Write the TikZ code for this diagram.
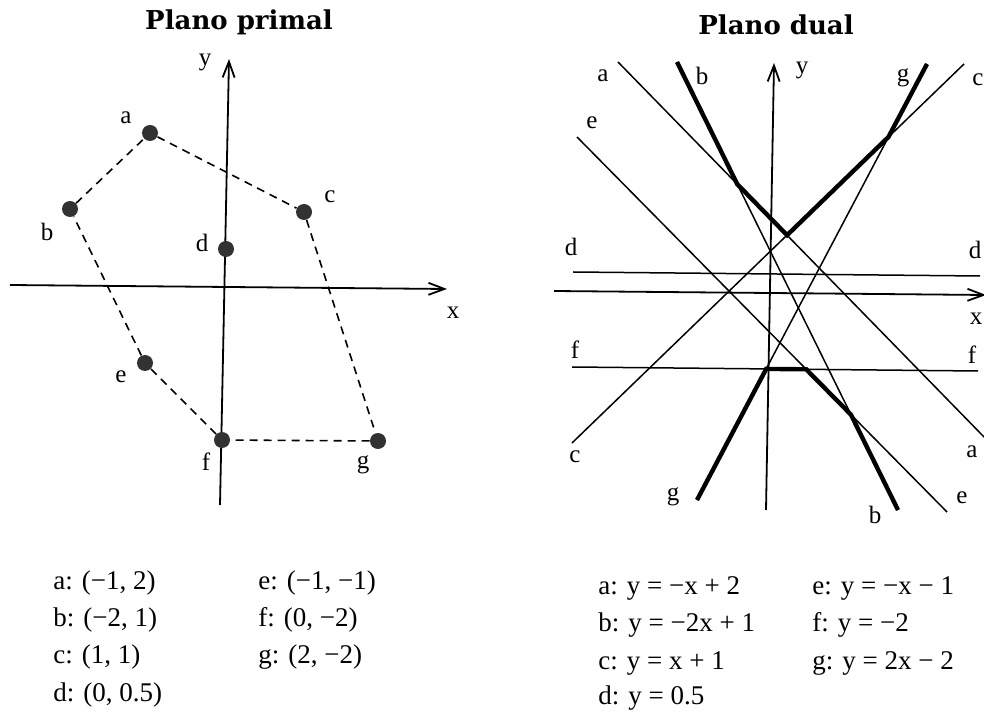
\documentclass[tikz,border=0pt]{standalone}
\usepackage{fontspec}
\setmainfont{Liberation Serif}
\newfontfamily\titlefont{DejaVu Serif}
\usetikzlibrary{arrows.meta}
\definecolor{PointGray}{RGB}{50,50,50}
\tikzset{
  axis/.style={-{Straight Barb[length=8pt,width=6pt]},line width=0.9pt},
  hull/.style={line width=0.8pt,dash pattern=on 4pt off 3pt},
  vertex/.style={circle,fill=PointGray,inner sep=0pt,minimum size=8pt},
  lbl/.style={font=\fontsize{12.5}{15}\selectfont,inner sep=0pt},
  dualline/.style={line width=0.75pt},
  envelope/.style={line width=2.2pt},
  heading/.style={font=\titlefont\bfseries\fontsize{13}{16}\selectfont},
  legend/.style={font=\fontsize{13.5}{16}\selectfont,anchor=west,inner sep=0pt}
}

\begin{document}
\begin{tikzpicture}[x=0.5pt,y=-0.5pt]
  \useasboundingbox (0,0) rectangle (984,715);

  % primal plane
  \node[heading] (ptitle) at (239,22) {Plano primal};
  \coordinate (px0) at (10,285);
  \coordinate (px1) at (447,289);
  \coordinate (py0) at (220,505);
  \coordinate (py1) at (229,59);
  \draw[axis] (px0) -- (px1);
  \draw[axis] (py0) -- (py1);
  \node[lbl] (pxl) at (453,313) {x};
  \node[lbl] (pyl) at (205,62) {y};

  \node[vertex] (a) at (150,133) {};
  \node[vertex] (b) at (70,209) {};
  \node[vertex] (c) at (304,212) {};
  \node[vertex] (d) at (226,249) {};
  \node[vertex] (e) at (145,363) {};
  \node[vertex] (f) at (222,440) {};
  \node[vertex] (g) at (378,441) {};
  \draw[hull] (a) -- (c) -- (g) -- (f) -- (e) -- (b) -- (a);

  \node[lbl] (la) at (126,118) {a};
  \node[lbl] (lb) at (47,232) {b};
  \node[lbl] (lc) at (330,197) {c};
  \node[lbl] (ld) at (202,243) {d};
  \node[lbl] (le) at (121,377) {e};
  \node[lbl] (lf) at (206,462) {f};
  \node[lbl] (lg) at (363,465) {g};

  \node[legend] (ta) at (53,583) {a: (−1, 2)};
  \node[legend] (tb) at (53,620) {b: (−2, 1)};
  \node[legend] (tc) at (53,657) {c: (1, 1)};
  \node[legend] (td) at (53,695) {d: (0, 0.5)};
  \node[legend] (te) at (258,583) {e: (−1, −1)};
  \node[legend] (tf) at (258,620) {f: (0, −2)};
  \node[legend] (tg) at (258,657) {g: (2, −2)};

  % dual plane
  \node[heading] (dtitle) at (776,25) {Plano dual};
  \coordinate (dx0) at (554,291);
  \coordinate (dx1) at (986,295);
  \coordinate (dy0) at (766,510);
  \coordinate (dy1) at (774,63);
  \draw[axis] (dx0) -- (dx1);
  \draw[axis] (dy0) -- (dy1);
  \node[lbl] (dxl) at (976,319) {x};
  \node[lbl] (dyl) at (802,70) {y};

  \coordinate (a1) at (618,62);  \coordinate (a2) at (986,439);
  \coordinate (b1) at (677,62);  \coordinate (b2) at (898,510);
  \coordinate (c1) at (572,443); \coordinate (c2) at (964,64);
  \coordinate (d1) at (573,272); \coordinate (d2) at (980,276);
  \coordinate (e1) at (577,137); \coordinate (e2) at (947,512);
  \coordinate (f1) at (572,367); \coordinate (f2) at (978,371);
  \coordinate (g1) at (697,500); \coordinate (g2) at (927,64);
  \foreach \l in {a,b,c,d,e,f,g}
    \draw[dualline] (\l1) -- (\l2);

  \coordinate (ba) at (intersection of b1--b2 and a1--a2);
  \coordinate (ac) at (intersection of a1--a2 and c1--c2);
  \coordinate (cg) at (intersection of c1--c2 and g1--g2);
  \coordinate (gf) at (intersection of g1--g2 and f1--f2);
  \coordinate (fe) at (intersection of f1--f2 and e1--e2);
  \coordinate (eb) at (intersection of e1--e2 and b1--b2);
  \draw[envelope] (b1) -- (ba) -- (ac) -- (cg) -- (g2);
  \draw[envelope] (g1) -- (gf) -- (fe) -- (eb) -- (b2);

  \node[lbl] (da1) at (603,76) {a};
  \node[lbl] (da2) at (972,452) {a};
  \node[lbl] (db1) at (702,76) {b};
  \node[lbl] (db2) at (875,515) {b};
  \node[lbl] (dc1) at (575,457) {c};
  \node[lbl] (dc2) at (978,80) {c};
  \node[lbl] (dd1) at (571,247) {d};
  \node[lbl] (dd2) at (975,250) {d};
  \node[lbl] (de1) at (592,123) {e};
  \node[lbl] (de2) at (962,498) {e};
  \node[lbl] (df1) at (575,350) {f};
  \node[lbl] (df2) at (972,355) {f};
  \node[lbl] (dg1) at (673,497) {g};
  \node[lbl] (dg2) at (903,78) {g};

  \node[legend] (ua) at (598,588) {a: y = −x + 2};
  \node[legend] (ub) at (598,625) {b: y = −2x + 1};
  \node[legend] (uc) at (598,663) {c: y = x + 1};
  \node[legend] (ud) at (598,698) {d: y = 0.5};
  \node[legend] (ue) at (812,588) {e: y = −x − 1};
  \node[legend] (uf) at (812,625) {f: y = −2};
  \node[legend] (ug) at (812,663) {g: y = 2x − 2};
\end{tikzpicture}
\end{document}
